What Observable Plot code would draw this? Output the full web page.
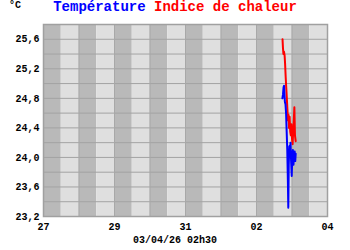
<!DOCTYPE html>
<html>
<head>
<meta charset="utf-8">
<script src="https://cdn.jsdelivr.net/npm/d3@7"></script>
<script src="https://cdn.jsdelivr.net/npm/@observablehq/plot@0.6"></script>
<style>
  html, body { margin: 0; padding: 0; background: #ffffff; }
  #wrap { position: relative; width: 350px; height: 250px; overflow: hidden; font-family: "Liberation Mono", "DejaVu Sans Mono", monospace; }
  #unit { position: absolute; left: 9px; top: 0px; font-size: 10px; font-weight: bold; color: #000; }
  #title { position: absolute; left: 0; width: 350px; top: -1px; text-align: center; font-size: 14px; font-weight: bold; white-space: pre; }
  #caption { position: absolute; left: 0; width: 350px; top: 235px; text-align: center; font-size: 10px; font-weight: bold; color: #000; }
  #chart { position: absolute; left: 0; top: 0; }
</style>
</head>
<body>
<div id="wrap">
  <div id="chart"></div>
  <div id="unit">°C</div>
  <div id="title"><span style="color:#0000ff">Température</span> <span style="color:#ff0000">Indice de chaleur</span></div>
  <div id="caption">03/04/26 02h30</div>
</div>
<script>
// Times (UTC) and values
const tempTimes = ["2026-04-02T17:30","2026-04-02T17:54","2026-04-02T18:18","2026-04-02T18:36","2026-04-02T18:54","2026-04-02T19:12","2026-04-02T19:36","2026-04-02T20:00","2026-04-02T20:24","2026-04-02T20:48","2026-04-02T21:12","2026-04-02T21:30","2026-04-02T21:48","2026-04-02T22:12","2026-04-02T22:36","2026-04-02T23:00","2026-04-02T23:24","2026-04-02T23:48","2026-04-03T00:12","2026-04-03T00:36","2026-04-03T01:00","2026-04-03T01:24","2026-04-03T01:48","2026-04-03T02:12","2026-04-03T02:30"];
const tempValues = [24.80,24.85,24.95,24.97,24.85,24.75,24.72,24.60,24.35,24.10,23.70,23.32,23.90,24.15,24.05,24.20,23.95,23.75,24.00,24.10,23.90,24.05,24.08,23.95,24.05];

const heatTimes = ["2026-04-02T17:36","2026-04-02T17:54","2026-04-02T18:12","2026-04-02T18:36","2026-04-02T19:00","2026-04-02T19:18","2026-04-02T19:42","2026-04-02T20:06","2026-04-02T20:30","2026-04-02T20:54","2026-04-02T21:18","2026-04-02T21:36","2026-04-02T22:00","2026-04-02T22:24","2026-04-02T22:48","2026-04-02T23:12","2026-04-02T23:36","2026-04-03T00:00","2026-04-03T00:24","2026-04-03T00:48","2026-04-03T01:12","2026-04-03T01:36","2026-04-03T02:00","2026-04-03T02:30"];
const heatValues = [25.60,25.48,25.40,25.43,25.38,25.28,25.10,24.95,24.80,24.65,24.50,24.58,24.40,24.55,24.35,24.30,24.45,24.25,24.18,24.35,24.50,24.68,24.30,24.22];

const yTicks = [23.2, 23.6, 24.0, 24.4, 24.8, 25.2, 25.6];
const xTickDates = ["2026-03-27","2026-03-29","2026-03-31","2026-04-02","2026-04-04"];
const xStart = "2026-03-27T00:00";
const xEnd = "2026-04-04T00:00";

const parse = s => new Date(s + (s.length === 10 ? "T00:00Z" : "Z"));
const temp = tempTimes.map((t, i) => ({date: parse(t), value: tempValues[i]}));
const heat = heatTimes.map((t, i) => ({date: parse(t), value: heatValues[i]}));

// half-day background stripes
const halves = d3.utcHour.every(12).range(parse(xStart), parse(xEnd)).map((d, i) => ({
  x1: d, x2: d3.utcHour.offset(d, 12), dark: d.getUTCHours() === 0
}));
const gridY = d3.range(0, 14).map(i => +(23.2 + i * 0.2).toFixed(1));
const fmtY = d => d3.format(".1f")(d).replace(".", ",");

const chart = Plot.plot({
  width: 350,
  height: 250,
  marginTop: 24,
  marginBottom: 34,
  marginLeft: 43,
  marginRight: 23,
  style: {fontFamily: "'Liberation Mono', 'DejaVu Sans Mono', monospace", fontSize: "10px", fontWeight: "bold", color: "#000", background: "transparent"},
  x: {type: "utc", domain: [parse(xStart), parse(xEnd)], ticks: xTickDates.map(parse), tickFormat: d3.utcFormat("%d"), tickSize: 0, tickPadding: 6, label: null},
  y: {domain: [23.2, 25.8], ticks: yTicks, tickFormat: fmtY, tickSize: 0, tickPadding: 4, label: null},
  marks: [
    Plot.rectY(halves, {x1: "x1", x2: "x2", y1: 23.2, y2: 25.8, fill: d => d.dark ? "#b9b9b9" : "#dfdfdf"}),
    Plot.ruleY(gridY, {stroke: "#a3a3a3", strokeWidth: 1}),
    Plot.ruleX(halves.filter(d => d.dark), {x: "x1", stroke: "#a8a8a8", strokeWidth: 1}),
    Plot.frame({stroke: "#a0a0a0", strokeWidth: 1.5}),
    Plot.line(heat, {x: "date", y: "value", stroke: "#ff0000", strokeWidth: 2}),
    Plot.line(temp, {x: "date", y: "value", stroke: "#0000ff", strokeWidth: 2})
  ]
});
document.getElementById("chart").appendChild(chart);
</script>
</body>
</html>
